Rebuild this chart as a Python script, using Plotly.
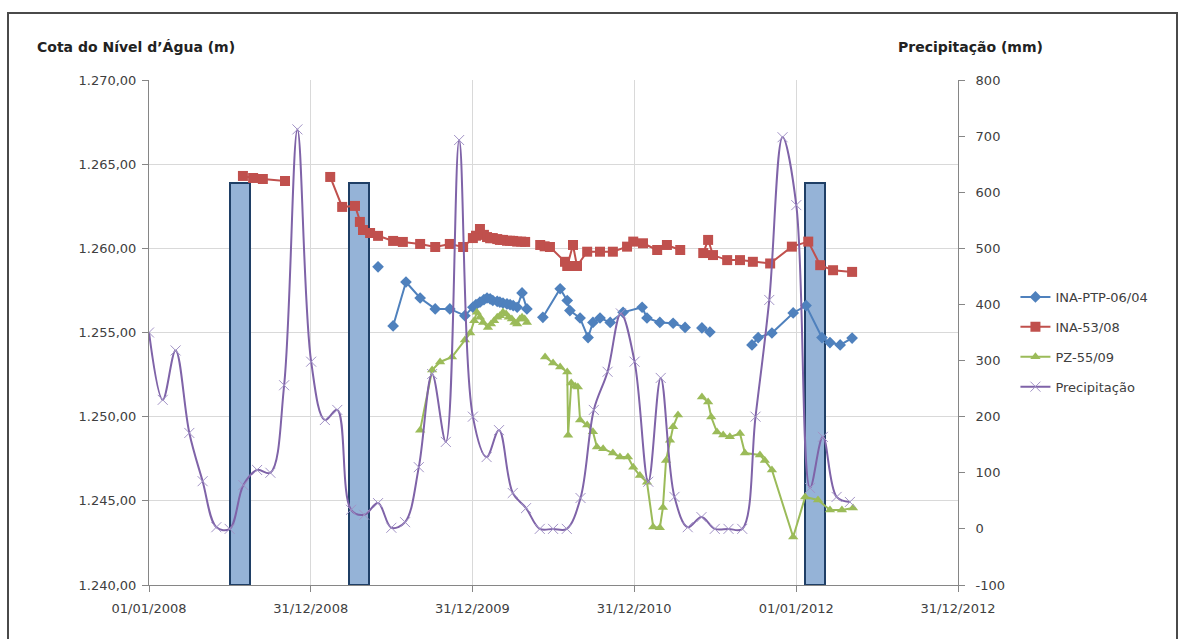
import plotly.graph_objects as go

FONT = "DejaVu Sans"

# ---- Monthly rainfall (mm), Jan 2008 to May 2012 ----
precip_dates = [f"{y}-{m:02d}-01" for y in range(2008, 2013) for m in range(1, 13)][:53]
precip_mm = [350, 230, 318, 171, 85, 3, 0, 78, 105, 100, 256, 712,
             298, 194, 212, 34, 25, 46, 2, 12, 110, 276, 155, 693,
             200, 128, 176, 64, 37, 0, 0, 0, 55, 212, 280, 384,
             298, 84, 269, 57, 3, 21, 0, 0, 0, 200, 408, 698,
             577, 73, 164, 57, 48]

# ---- INA-53/08 water level (m) ----
ina53_dates = ["2008-07-31", "2008-08-23", "2008-09-14", "2008-11-03", "2008-12-20",
               "2009-02-13", "2009-03-12", "2009-04-10", "2009-04-21", "2009-04-28",
               "2009-05-14", "2009-06-01", "2009-07-05", "2009-07-27", "2009-09-04",
               "2009-10-08", "2009-11-10", "2009-12-10", "2010-01-01", "2010-01-08",
               "2010-01-17", "2010-01-26", "2010-02-02", "2010-02-09", "2010-02-15",
               "2010-02-25", "2010-03-03", "2010-03-10", "2010-03-19", "2010-03-26",
               "2010-04-02", "2010-04-11", "2010-04-20", "2010-04-29",
               "2010-05-15",
               "2010-06-02", "2010-06-12", "2010-06-24", "2010-07-28", "2010-08-02", "2010-08-15",
               "2010-08-24", "2010-09-16", "2010-10-15", "2010-11-13", "2010-12-15",
               "2010-12-29", "2011-01-20", "2011-02-21", "2011-03-15", "2011-04-14",
               "2011-05-10",
               "2011-06-05", "2011-06-16", "2011-06-27", "2011-07-29", "2011-08-27",
               "2011-09-25", "2011-11-03", "2011-12-22", "2012-01-28", "2012-02-24",
               "2012-03-24", "2012-05-06"]
ina53_m = [1264.30, 1264.18, 1264.12, 1264.00, None,
           1264.24, 1262.46, 1262.52, 1261.57, 1261.09,
           1260.91, 1260.74, 1260.44, 1260.38, 1260.26,
           1260.08, 1260.26, 1260.08, 1260.61, 1260.75,
           1261.15, 1260.80, 1260.67, 1260.60, 1260.61,
           1260.55, 1260.50, 1260.50, 1260.45, 1260.45,
           1260.44, 1260.40, 1260.40, 1260.38,
           None,
           1260.20, 1260.12, 1260.08, 1259.20, 1258.95, 1260.20,
           1258.95, 1259.80, 1259.80, 1259.80, 1260.10,
           1260.40, 1260.30, 1259.90, 1260.20, 1259.90,
           None,
           1259.72, 1260.50, 1259.60, 1259.30, 1259.30,
           1259.20, 1259.10, 1260.10, 1260.40, 1259.00,
           1258.70, 1258.60]

# ---- INA-PTP-06/04 water level (m) ----
ptp_dates = ["2009-06-01", "2009-06-20",
             "2009-07-05", "2009-08-03", "2009-09-04", "2009-10-08", "2009-11-10",
             "2009-12-14", "2010-01-01", "2010-01-08", "2010-01-17", "2010-01-26",
             "2010-02-02", "2010-02-09", "2010-02-15", "2010-02-25", "2010-03-03",
             "2010-03-10", "2010-03-19", "2010-03-26", "2010-04-02", "2010-04-11",
             "2010-04-22", "2010-05-03",
             "2010-05-20",
             "2010-06-08", "2010-07-17", "2010-08-02", "2010-08-08", "2010-08-31",
             "2010-09-18", "2010-09-29", "2010-10-15", "2010-11-07", "2010-12-06",
             "2011-01-18", "2011-01-29", "2011-02-27", "2011-03-29", "2011-04-25",
             "2011-05-15",
             "2011-06-02", "2011-06-20",
             "2011-08-15",
             "2011-09-23", "2011-10-07", "2011-11-07", "2011-12-25", "2012-01-23",
             "2012-02-28", "2012-03-17", "2012-04-09", "2012-05-06"]
ptp_m = [1258.90, None,
         1255.39, 1258.00, 1257.05, 1256.40, 1256.40,
         1256.00, 1256.50, 1256.65, 1256.80, 1256.95,
         1257.05, 1257.00, 1256.90, 1256.85, 1256.80,
         1256.75, 1256.70, 1256.65, 1256.60, 1256.50,
         1257.35, 1256.40,
         None,
         1255.90, 1257.60, 1256.90, 1256.30, 1255.86,
         1254.70, 1255.60, 1255.86, 1255.60, 1256.20,
         1256.50, 1255.86, 1255.60, 1255.55, 1255.30,
         None,
         1255.27, 1255.03,
         None,
         1254.26, 1254.70, 1254.97, 1256.16, 1256.60,
         1254.70, 1254.40, 1254.26, 1254.67]

# ---- PZ-55/09 water level (m) ----
pz_dates = ["2009-09-04", "2009-10-01", "2009-10-19", "2009-11-15", "2009-12-14",
            "2009-12-26", "2010-01-04", "2010-01-10", "2010-01-17", "2010-01-24",
            "2010-02-04", "2010-02-11", "2010-02-18", "2010-02-25", "2010-03-03",
            "2010-03-10", "2010-03-17", "2010-03-23", "2010-03-30", "2010-04-05",
            "2010-04-11", "2010-04-17", "2010-04-22", "2010-04-28", "2010-05-03",
            "2010-05-20",
            "2010-06-13", "2010-07-01", "2010-07-17", "2010-08-02", "2010-08-04",
            "2010-08-11", "2010-08-20", "2010-08-26", "2010-08-31", "2010-09-16",
            "2010-09-29", "2010-10-08", "2010-10-22", "2010-11-13", "2010-11-29",
            "2010-12-17", "2010-12-29", "2011-01-13", "2011-01-29", "2011-02-12",
            "2011-02-27", "2011-03-06", "2011-03-13", "2011-03-22", "2011-03-29",
            "2011-04-09",
            "2011-05-10",
            "2011-06-02", "2011-06-16", "2011-06-23", "2011-07-06", "2011-07-20",
            "2011-08-04", "2011-08-27", "2011-09-07", "2011-10-11", "2011-10-22",
            "2011-11-07", "2011-12-25", "2012-01-21", "2012-02-19", "2012-03-17",
            "2012-04-13", "2012-05-08"]
pz_m = [1249.20, 1252.77, 1253.25, 1253.55, 1254.55,
        1254.97, 1255.70, 1256.20, 1255.90, 1255.60,
        1255.30, 1255.50, 1255.70, 1255.90, 1256.00,
        1256.20, 1256.10, 1255.90, 1255.80, 1255.60,
        1255.50, 1255.80, 1255.90, 1255.80, 1255.60,
        None,
        1253.55, 1253.19, 1252.95, 1252.65, 1248.90,
        1252.00, 1251.80, 1251.76, 1249.80, 1249.50,
        1249.10, 1248.20, 1248.10, 1247.84, 1247.60,
        1247.60, 1247.00, 1246.50, 1246.10, 1243.45,
        1243.40, 1244.60, 1247.40, 1248.60, 1249.40,
        1250.10,
        None,
        1251.17, 1250.87, 1249.98, 1249.09, 1248.91,
        1248.80, 1249.00, 1247.84, 1247.72, 1247.40,
        1246.83, 1242.85, 1245.23, 1245.05, 1244.46,
        1244.46, 1244.57]

# ---- highlighted periods (columns) ----
period_dates = ["2008-07-24", "2009-04-19", "2012-02-12"]
period_top = [1263.9, 1263.9, 1263.9]

# axis labels
x_ticks = ["2008-01-01", "2008-12-31", "2009-12-31", "2010-12-31", "2012-01-01", "2012-12-31"]
x_labels = ["01/01/2008", "31/12/2008", "31/12/2009", "31/12/2010", "01/01/2012", "31/12/2012"]
y_ticks = [1240, 1245, 1250, 1255, 1260, 1265, 1270]
y_labels = ["1.240,00", "1.245,00", "1.250,00", "1.255,00", "1.260,00", "1.265,00", "1.270,00"]
y2_ticks = [-100, 0, 100, 200, 300, 400, 500, 600, 700, 800]
y2_labels = ["-100", "0", "100", "200", "300", "400", "500", "600", "700", "800"]

BLUE = "#4F81BD"
RED = "#C0504D"
GREEN = "#9BBB59"
PURPLE = "#7F63A8"
DAY_MS = 86400000

fig = go.Figure()

fig.add_trace(go.Bar(
    x=period_dates, y=[t - 1240 for t in period_top], base=1240,
    width=45 * DAY_MS, marker=dict(color="#95B3D7", line=dict(color="#1F3F66", width=2)),
    showlegend=False, hoverinfo="skip"))

fig.add_trace(go.Scatter(
    x=ptp_dates, y=ptp_m, name="INA-PTP-06/04", mode="lines+markers",
    line=dict(color=BLUE, width=2), marker=dict(symbol="diamond", size=9, color=BLUE),
    legendgroup="a"))
fig.add_trace(go.Scatter(
    x=ina53_dates, y=ina53_m, name="INA-53/08", mode="lines+markers",
    line=dict(color=RED, width=2), marker=dict(symbol="square", size=10, color=RED),
    legendgroup="b"))
fig.add_trace(go.Scatter(
    x=pz_dates, y=pz_m, name="PZ-55/09", mode="lines+markers",
    line=dict(color=GREEN, width=2), marker=dict(symbol="triangle-up", size=9, color=GREEN),
    legendgroup="c"))
fig.add_trace(go.Scatter(
    x=precip_dates, y=precip_mm, name="Precipitação", mode="lines+markers", yaxis="y2",
    line=dict(color=PURPLE, width=2, shape="spline", smoothing=1.0),
    marker=dict(symbol="x-thin", size=10, color="#A293C6", line=dict(width=1, color="#A293C6")),
    legendgroup="d"))

axis_common = dict(showline=True, linecolor="#868686", linewidth=1, ticks="outside",
                   ticklen=6, tickcolor="#868686",
                   tickfont=dict(family=FONT, size=13, color="#404040"))

fig.update_layout(
    width=1178, height=639,
    margin=dict(l=149, r=220, t=80, b=54),
    paper_bgcolor="white", plot_bgcolor="white",
    font=dict(family=FONT, color="#404040"),
    xaxis=dict(type="date", range=["2008-01-01", "2012-12-31"],
               tickvals=x_ticks, ticktext=x_labels, showgrid=True, gridcolor="#D9D9D9",
               ticklabelstandoff=5, **axis_common),
    yaxis=dict(range=[1240, 1270], tickvals=y_ticks, ticktext=y_labels, showgrid=True,
               gridcolor="#D9D9D9", zeroline=False, ticklabelstandoff=3, **axis_common),
    yaxis2=dict(range=[-100, 800], tickvals=y2_ticks, ticktext=y2_labels, overlaying="y",
                side="right", showgrid=False, zeroline=False, ticklabelstandoff=8,
                **axis_common),
    legend=dict(x=1.071, y=0.6, xanchor="left", yanchor="top", tracegroupgap=10,
                font=dict(family=FONT, size=13, color="#404040"), bgcolor="rgba(0,0,0,0)"),
    bargap=0,
    annotations=[
        dict(text="<b>Cota do Nível d’Água (m)</b>", xref="paper", yref="paper",
             x=(35 - 149) / 809, y=(585 - 47) / 505, xanchor="left", yanchor="middle",
             showarrow=False, font=dict(family=FONT, size=14, color="#222222")),
        dict(text="<b>Precipitação (mm)</b>", xref="paper", yref="paper",
             x=(1045 - 149) / 809, y=(585 - 47) / 505, xanchor="right", yanchor="middle",
             showarrow=False, font=dict(family=FONT, size=14, color="#222222")),
    ],
    shapes=[
        dict(type="rect", xref="paper", yref="paper",
             x0=(8 - 149) / 809, x1=(1177 - 149) / 809,
             y0=(585 - 660) / 505, y1=(585 - 13) / 505,
             line=dict(color="#4a4a4a", width=2), fillcolor="rgba(0,0,0,0)", layer="below"),
    ],
)

fig.write_html("out.html")
